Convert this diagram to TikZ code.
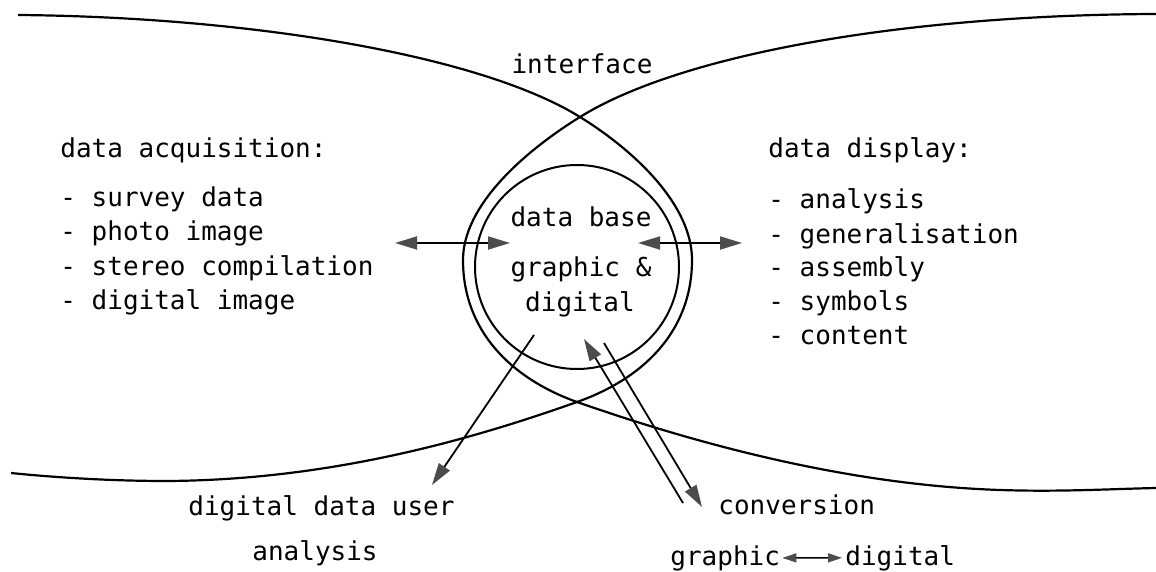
\documentclass[tikz,border=0pt]{standalone}
\usepackage{fontspec}
\setmonofont{DejaVu Sans Mono}
\usetikzlibrary{arrows.meta}
\begin{document}
\begin{tikzpicture}[x=0.5pt,y=-0.5pt,
  txt/.style={font=\ttfamily\fontsize{13}{15}\selectfont, inner sep=0pt, anchor=base west},
  ctxt/.style={txt, anchor=base},
  curve/.style={line width=1.1pt, line join=round},
  arr/.style={line width=0.9pt, -{Triangle[length=11pt,width=6.5pt,color=black!70]}},
  darr/.style={line width=0.9pt, {Triangle[length=11pt,width=6.5pt,color=black!70]}-{Triangle[length=11pt,width=6.5pt,color=black!70]}},
  sdarr/.style={line width=0.8pt, {Triangle[length=7pt,width=4.5pt,color=black!70]}-{Triangle[length=7pt,width=4.5pt,color=black!70]}},
]
\useasboundingbox (0,0) rectangle (1156,572);

% left region boundary
\draw[curve] (18,15) .. controls (250,17) and (480,55) .. (580,117)
  .. controls (635,151) and (692,205) .. (692,260)
  .. controls (692,330) and (645,378) .. (577,402)
  .. controls (470,440) and (330,480) .. (167,481)
  .. controls (107,481) and (50,477) .. (11,473);
% right region boundary
\draw[curve] (1156,14) .. controls (900,15) and (680,55) .. (580,117)
  .. controls (525,151) and (463,205) .. (463,260)
  .. controls (463,330) and (510,378) .. (577,402)
  .. controls (700,445) and (850,485) .. (1000,490)
  .. controls (1060,492) and (1110,489) .. (1156,488);

% data base circle
\node[draw, circle, minimum size=102pt, inner sep=0pt, line width=1pt] (db) at (577,267) {};

% texts
\node[ctxt] (iface) at (582,74) {interface};
\node[ctxt] (db1) at (581,227) {data base};
\node[ctxt] (db2) at (581,277) {graphic \&};
\node[ctxt] (db3) at (580,312) {digital};

\node[txt] (acq) at (60,158) {data acquisition:};
\node[txt] (acq1) at (60,207) {- survey data};
\node[txt] (acq2) at (60,241) {- photo image};
\node[txt] (acq3) at (60,276) {- stereo compilation};
\node[txt] (acq4) at (60,309) {- digital image};

\node[txt] (dis) at (768,158) {data display:};
\node[txt] (dis1) at (768,209) {- analysis};
\node[txt] (dis2) at (768,243) {- generalisation};
\node[txt] (dis3) at (768,277) {- assembly};
\node[txt] (dis4) at (768,310) {- symbols};
\node[txt] (dis5) at (768,344) {- content};

\node[txt] (user) at (188,515) {digital data user};
\node[txt] (ana) at (252,560) {analysis};
\node[txt] (conv) at (718,514) {conversion};
\node[txt] (gr) at (670,565) {graphic};
\node[txt] (dg) at (845,565) {digital};

% arrows
\coordinate (la1) at (395,243);
\coordinate (la2) at (510,243);
\coordinate (ra1) at (638,243);
\coordinate (ra2) at (742,243);
\coordinate (ua1) at (534,335);
\coordinate (ua2) at (432,485);
\coordinate (ca1) at (683,503);
\coordinate (ca2) at (584,339);
\coordinate (cb1) at (604,343);
\coordinate (cb2) at (702,507);

\draw[darr] (la1) -- (la2);
\draw[darr] (ra1) -- (ra2);
\draw[arr] (ua1) -- (ua2);
\draw[arr] (ca1) -- (ca2);
\draw[arr] (cb1) -- (cb2);
\draw[sdarr] ([xshift=1pt]gr.east) -- ([xshift=-1.5pt]dg.west);
\end{tikzpicture}
\end{document}
